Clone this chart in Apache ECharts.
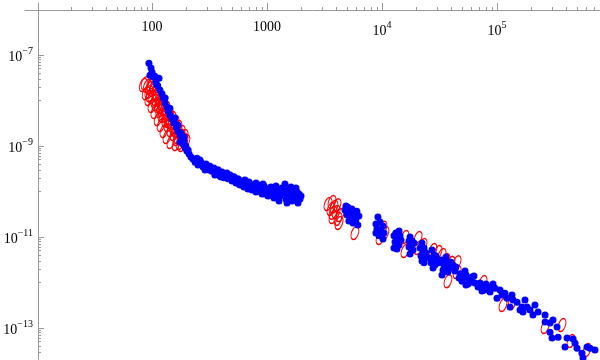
<!DOCTYPE html>
<html>
<head>
<meta charset="utf-8">
<script src="https://cdn.jsdelivr.net/npm/echarts@6/dist/echarts.min.js"></script>
<style>
  html, body { margin: 0; padding: 0; background: #fff; }
  #chart { width: 600px; height: 360px; }
</style>
</head>
<body>
<div id="chart"></div>
<script>
// axis ranges (log-log)
const xRange = [7.86, 786000];
const yRange = [1.98e-14, 1.39e-6];

// ticks
const xMajorTicks = [100, 1000, 10000, 100000];
const xMinorTicks = [20, 30, 40, 50, 60, 70, 80, 90,
  200, 300, 400, 500, 600, 700, 800, 900,
  2000, 3000, 4000, 5000, 6000, 7000, 8000, 9000,
  20000, 30000, 40000, 50000, 60000, 70000, 80000, 90000,
  200000, 300000, 400000, 500000, 600000, 700000];
const yMajorTicks = [1e-7, 1e-9, 1e-11, 1e-13];
const yMinorTicks = [1e-8, 2e-8, 3e-8, 4e-8, 5e-8, 6e-8, 7e-8, 8e-8, 9e-8,
  1e-10, 2e-10, 3e-10, 4e-10, 5e-10, 6e-10, 7e-10, 8e-10, 9e-10,
  1e-12, 2e-12, 3e-12, 4e-12, 5e-12, 6e-12, 7e-12, 8e-12, 9e-12,
  2e-14, 3e-14, 4e-14, 5e-14, 6e-14, 7e-14, 8e-14, 9e-14];

// blue points [x, y]
const blueSteep = [[94,6.6e-8],[98,5.2e-8],[100,4.2e-8],[96,3.6e-8],[102,3.3e-8],[115,3.1e-8],[108,2.5e-8],[112,2.1e-8],[117,1.7e-8],[122,1.4e-8],[125,1.14e-8],[130,8.8e-9],[135,7.2e-9],[138,5.9e-9],[143,4.8e-9],[149,3.9e-9],[155,3.2e-9],[162,2.6e-9],[168,2.1e-9],[175,1.74e-9],[182,1.35e-9],[186,1.1e-9],[194,9.0e-10],[201,7.8e-10],[210,6.7e-10],[218,5.7e-10],[106,3.4e-8],[110,2.2e-8],[130,1.14e-8],[143,6.8e-9],[158,4.1e-9],[168,2.9e-9],[178,1.93e-9],[190,1.28e-9],[197,1.0e-9],[175,1.22e-9],[206,8.2e-10],[190,1.57e-9]];

const blueKnee = [[227,5.2e-10],[237,4.4e-10],[246,5.4e-10],[251,3.8e-10],[267,4.4e-10],[278,3.45e-10],[295,4.0e-10],[307,3.1e-10],[319,3.6e-10],[332,2.8e-10],[345,3.3e-10],[360,2.4e-10],[375,3.0e-10],[390,2.2e-10],[406,2.7e-10],[422,2.0e-10],[439,2.4e-10],[457,1.9e-10],[477,2.3e-10],[496,1.7e-10],[516,2.1e-10],[537,1.54e-10],[559,1.9e-10],[583,1.39e-10],[606,1.7e-10],[630,1.25e-10],[656,1.54e-10],[682,1.13e-10],[712,1.46e-10],[741,1.08e-10],[771,1.32e-10],[802,9.8e-11],[835,1.39e-10],[869,1.13e-10],[905,8.8e-11],[941,1.32e-10],[979,1.03e-10],[1020,8.0e-11],[1062,1.19e-10],[1105,9.3e-11],[1150,7.2e-11],[1197,1.32e-10],[1246,1.03e-10],[1297,8.0e-11],[1350,1.19e-10],[1405,9.3e-11],[1462,6.8e-11],[1522,1.08e-10],[1585,8.4e-11],[1649,6.2e-11],[1717,9.8e-11],[1787,7.6e-11],[1860,5.6e-11],[1898,8.8e-11],[1936,6.8e-11],[1433,1.46e-10],[1787,1.19e-10],[802,1.54e-10],[289,2.97e-10],[352,2.3e-10],[431,2.08e-10],[526,1.79e-10],
  [261,4.92e-10],[283,3.63e-10],[313,2.97e-10],[352,2.82e-10],[398,2.08e-10],[448,2.55e-10],[506,1.98e-10],[571,1.46e-10],[643,1.79e-10],[726,1.32e-10],[818,1.08e-10],[923,1.46e-10],[960,8.8e-11],[1083,1.25e-10],[1221,8.4e-11],[1271,6.2e-11],[1377,1.03e-10],[1492,5.6e-11],[1617,1.25e-10],[1751,6.5e-11],[1823,9.8e-11],[1975,8.0e-11],[1554,8.0e-11],[1174,1.08e-10],[887,9.8e-11],[697,1.62e-10]];

const blueMid = [[4760,3.9e-11],[5050,4.5e-11],[5270,3.56e-11],[5470,4.1e-11],[5810,3.4e-11],[4960,3.04e-11],[5360,2.6e-11],[5690,2.9e-11],[6040,3.7e-11],[6290,2.9e-11],[5920,2.36e-11],[5580,2.03e-11],[6160,1.84e-11],[5150,2.24e-11],[4860,4.8e-11],
  [9210,2.74e-11],[8850,1.94e-11],[9610,2.14e-11],[10200,1.75e-11],[9030,1.5e-11],[9800,1.35e-11],[10400,1.22e-11],[9410,1.06e-11],[10200,9.0e-12],[8850,1.22e-11]];

const blueTail = [[13200,1.22e-11],[13750,9.5e-12],[12960,7.8e-12],[14050,6.67e-12],[13480,5.44e-12],[14630,8.6e-12],[14340,1.06e-11],
  [12710,1.06e-11],[14050,1.35e-11],[13480,7.0e-12],[12710,5.7e-12],
  [17520,1.0e-11],[18230,8.2e-12],[17870,6.34e-12],[18600,5.18e-12],[17520,4.23e-12],
  [17180,8.2e-12],[18970,7.35e-12],[18230,5.18e-12],[17180,6.0e-12],
  [22270,7.4e-12],[23170,5.7e-12],[22720,4.43e-12],[23640,3.45e-12],[22270,2.97e-12],
  [21400,5.7e-12],[24100,4.43e-12],[21830,3.82e-12],[23170,2.7e-12],
  [27210,5.18e-12],[28310,4.02e-12],[27750,3.12e-12],[28880,2.42e-12],[26670,2.7e-12],
  [29450,3.82e-12],[26150,3.43e-12],[29450,2.8e-12],[27750,2.08e-12],
  [32580,3.12e-12],[34570,2.42e-12],[36690,2.8e-12],[39030,2.08e-12],[33890,1.88e-12],[41390,2.42e-12],[37420,1.7e-12],[43060,1.79e-12],[35970,3.63e-12],
  [31320,2.7e-12],[35270,2.08e-12],[39800,2.8e-12],[43920,2.18e-12],[33230,1.46e-12],
  [47680,1.55e-12],[50600,1.25e-12],[53700,1.46e-12],[57100,1.13e-12],[60600,1.32e-12],[64300,9.7e-13],[49600,1.07e-12],[56000,9.25e-13],
  [46750,1.25e-12],[52660,1.79e-12],[59400,1.02e-12],[63000,1.39e-12],[53700,8.8e-13],
  [71160,9.7e-13],[75500,7.95e-13],[80100,9.25e-13],[74000,6.5e-13],[83400,7.2e-13],
  [68400,7.95e-13],[78500,6.84e-13],[86950,6.2e-13],[92300,9.25e-13],
  [86950,7.95e-13],[96200,7.5e-13],[106200,6.84e-13],[110500,5.31e-13],[100000,4.5e-13],[122200,4.5e-13],[134900,5.31e-13],[137600,4.12e-13],[129700,2.9e-13],[149400,3.7e-13],[164900,2.9e-13],[168200,2.24e-13],[182400,2.9e-13],[175000,4.12e-13],[193600,2.49e-13],[205400,1.93e-13],[227300,2.24e-13],[261800,1.93e-13],[261800,1.35e-13],[289000,1.28e-13],[306700,1.5e-13],[332600,1.05e-13],[339400,6.3e-14],[300700,6.0e-14],[406400,6.0e-14],[477200,4.65e-14],[458700,5.7e-14],[389700,3.8e-14],[606500,3.8e-14],[643600,3.6e-14],[710500,3.28e-14],[548100,2.8e-14],[559100,2.2e-14],[117200,5.8e-13],[158500,2.49e-13],[213700,3.2e-13],[289000,8.1e-14],[496500,3.6e-14]];

// red "O" points [x, y]
const redSteep = [[91,2.08e-8],[98,2.19e-8],[94,1.54e-8],[102,1.7e-8],[100,1.19e-8],[108,1.32e-8],[106,9.8e-9],[115,1.03e-8],[113,7.6e-9],[122,8.4e-9],[117,5.9e-9],[127,6.5e-9],[125,4.56e-9],[135,5.0e-9],[132,3.73e-9],[143,4.1e-9],[138,2.89e-9],[149,3.2e-9],[146,2.25e-9],[158,2.6e-9],[155,1.83e-9],[168,2.14e-9],[165,1.42e-9],[179,1.65e-9],[175,1.16e-9],[190,1.35e-9],[96,1.88e-8],[87,2.4e-8],[108,1.08e-8],[120,7.2e-9],[132,5.3e-9],[143,3.4e-9],[162,2.14e-9],[182,1.05e-9],
  [84,2.19e-8],[89,1.45e-8],[94,1.08e-8],[100,7.6e-9],[106,5.6e-9],[113,3.9e-9],[120,2.9e-9],[127,2.14e-9],[135,1.57e-9],[146,1.22e-9],
  [104,2.08e-8],[110,1.45e-8],[117,1.14e-8],[125,8.8e-9],[132,6.8e-9],[141,5.0e-9],[149,4.1e-9],[158,3.37e-9],[168,2.6e-9],[179,2.03e-9],[190,1.65e-9],[197,1.28e-9],
  [96,1.32e-8],[108,8.4e-9],[122,4.8e-9],[138,3.55e-9],[155,2.47e-9],[168,1.57e-9],[162,1.1e-9]];

const redMid = [[3670,5.9e-11],[4060,5.0e-11],[3600,4.1e-11],[3990,3.56e-11],[3745,2.74e-11],[4140,2.5e-11],[3820,4.6e-11],[4310,3.04e-11],[5810,1.22e-11],[10200,1.6e-11],[9610,9.5e-12],[10600,1.22e-11],
  [3390,5.3e-11],[4230,2.03e-11],[3745,3.4e-11]];

const redTail = [[15830,1.0e-11],[15830,4.9e-12],[20570,9.5e-12],[20570,5.7e-12],[22720,6.67e-12],[27750,5.18e-12],[33230,4.02e-12],[35970,3.12e-12],[39800,2.7e-12],[44930,2.8e-12],[37420,1.07e-12],[75500,1.02e-12],[44930,1.7e-12],[112700,3.2e-13],[134900,3.5e-13],[261800,1.05e-13],[367300,1.16e-13],[440000,5.2e-14],[606500,3.28e-14],[30710,4.7e-12]];

// slanted (italic) letter O outline
const oSymbol = 'path://M6.5,0 C9,0 10.5,2.5 9.6,6 C8.7,10 6,14 3.5,14 C1,14 -0.5,11.5 0.4,8 C1.3,4 4,0 6.5,0 Z';

const axisColor = '#999';
const font = 'Liberation Serif';

function powLabel(v) {
  const e = Math.round(Math.log10(v));
  if (e === 2) return '100';
  if (e === 3) return '1000';
  return '{b|10}{s|' + (e < 0 ? '\u2212' + (-e) : e) + '}';
}

const labelRich = {
  b: { fontFamily: font, fontSize: 14, color: '#000', lineHeight: 18, verticalAlign: 'bottom' },
  s: { fontFamily: font, fontSize: 10, color: '#000', lineHeight: 10, verticalAlign: 'top' }
};

const chart = echarts.init(document.getElementById('chart'), null, { renderer: 'canvas' });

chart.setOption({
  animation: false,
  backgroundColor: '#fff',
  grid: { left: 25, right: 0, top: 3, bottom: 0, containLabel: false, outerBoundsMode: 'none' },
  xAxis: [
    {
      type: 'log', min: xRange[0], max: xRange[1], position: 'top', offset: -7,
      axisLine: { show: true, lineStyle: { color: axisColor, width: 1 } },
      axisTick: { show: true, customValues: xMajorTicks, length: 7, lineStyle: { color: axisColor } },
      axisLabel: {
        show: true, inside: true, margin: 10, customValues: xMajorTicks,
        formatter: powLabel, fontFamily: font, fontSize: 14, color: '#000', rich: labelRich
      },
      splitLine: { show: false }
    },
    {
      type: 'log', min: xRange[0], max: xRange[1], position: 'top', offset: -7,
      axisLine: { show: false },
      axisTick: { show: true, customValues: xMinorTicks, length: 3, lineStyle: { color: axisColor } },
      axisLabel: { show: false },
      splitLine: { show: false }
    }
  ],
  yAxis: [
    {
      type: 'log', min: yRange[0], max: yRange[1], position: 'left', offset: -13,
      axisLine: { show: true, lineStyle: { color: axisColor, width: 1 } },
      axisTick: { show: true, inside: true, customValues: yMajorTicks, length: 6, lineStyle: { color: axisColor } },
      axisLabel: {
        show: true, margin: 5, customValues: yMajorTicks,
        formatter: powLabel, fontFamily: font, fontSize: 14, color: '#000', rich: labelRich
      },
      splitLine: { show: false }
    },
    {
      type: 'log', min: yRange[0], max: yRange[1], position: 'left', offset: -13,
      axisLine: { show: false },
      axisTick: { show: true, inside: true, customValues: yMinorTicks, length: 3, lineStyle: { color: axisColor } },
      axisLabel: { show: false },
      splitLine: { show: false }
    }
  ],
  series: [
    {
      type: 'scatter', xAxisIndex: 0, yAxisIndex: 0,
      data: redSteep.concat(redMid, redTail),
      symbol: oSymbol, symbolSize: [8, 13],
      itemStyle: { color: 'rgba(0,0,0,0)', borderColor: '#ff0000', borderWidth: 1.2, opacity: 1 },
      silent: true
    },
    {
      type: 'scatter', xAxisIndex: 0, yAxisIndex: 0,
      data: blueSteep.concat(blueKnee, blueMid, blueTail),
      symbol: 'circle', symbolSize: 7,
      itemStyle: { color: '#0000ff', opacity: 1 },
      silent: true
    }
  ]
});
</script>
</body>
</html>
